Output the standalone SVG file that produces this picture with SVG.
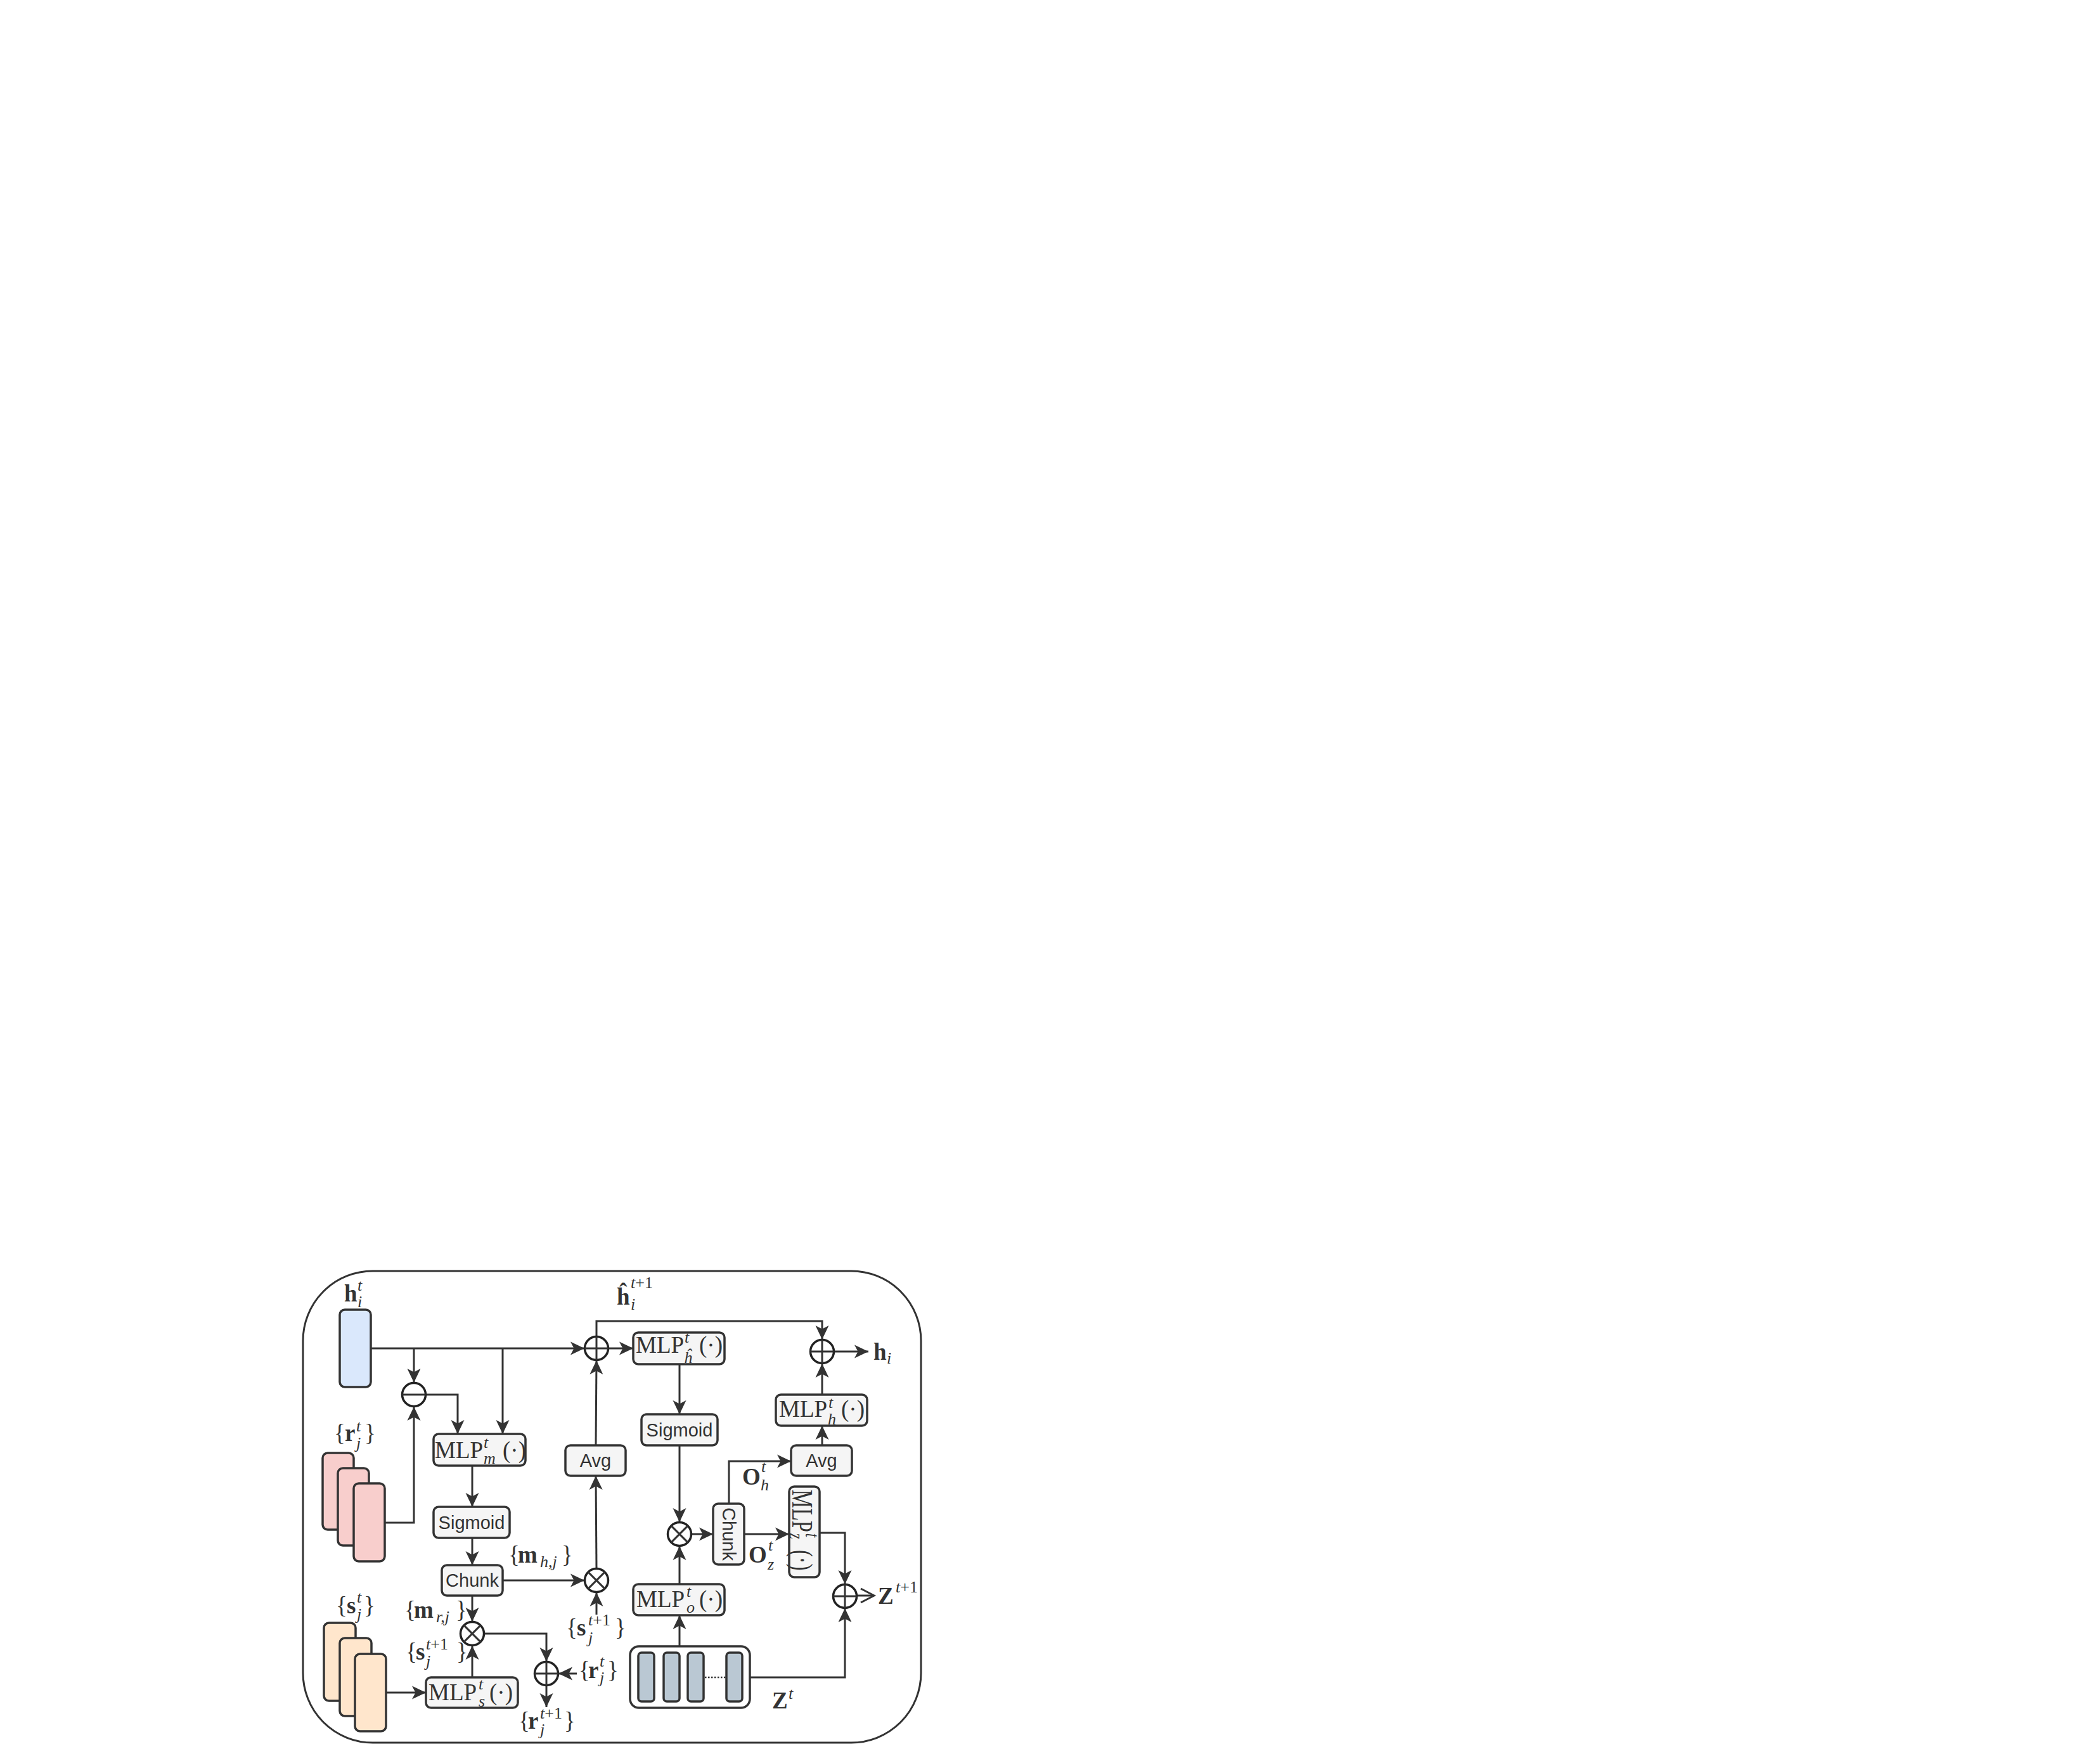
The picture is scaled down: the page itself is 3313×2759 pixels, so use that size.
<svg xmlns="http://www.w3.org/2000/svg" width="3313" height="2759" viewBox="0 0 3313 2759">
<defs>
<style>
.ln{fill:none;stroke:#333;stroke-width:3}
.bx{fill:#f5f5f5;stroke:#333;stroke-width:3.5}
.op{fill:#fff;stroke:#222;stroke-width:3.5}
.t{font-family:"Liberation Sans",Arial,sans-serif;font-size:29px;fill:#333;text-anchor:middle}
.m{font-family:"Liberation Serif","Times New Roman",serif;font-size:37px;fill:#333}
.b{font-weight:bold}
.s{font-size:26px;font-style:italic}
.u{font-size:26px;font-style:normal}
</style>
<marker id="a" markerUnits="userSpaceOnUse" markerWidth="24" markerHeight="24" viewBox="0 -12 24 24" refX="22" refY="0" orient="auto"><path d="M0,-10.5 L22,0 L0,10.5 L5.5,0 Z" fill="#333"/></marker>
</defs>
<rect x="0" y="0" width="3313" height="2759" fill="#fff"/>
<rect id="frame" x="478" y="2005" width="975" height="744" rx="110" fill="none" stroke="#333" stroke-width="3"/>

<g id="connectors">
<path class="ln" d="M585,2127 H922" marker-end="url(#a)"/>
<path class="ln" d="M653,2127 V2181" marker-end="url(#a)"/>
<path class="ln" d="M793,2127 V2262" marker-end="url(#a)"/>
<path class="ln" d="M672,2200 H722 V2262" marker-end="url(#a)"/>
<path class="ln" d="M607,2402 H653 V2219" marker-end="url(#a)"/>
<path class="ln" d="M745,2312 V2377" marker-end="url(#a)"/>
<path class="ln" d="M745,2426 V2469" marker-end="url(#a)"/>
<path class="ln" d="M793,2493 H922" marker-end="url(#a)"/>
<path class="ln" d="M941,2547 V2512" marker-end="url(#a)"/>
<path class="ln" d="M941,2474 L940,2328" marker-end="url(#a)"/>
<path class="ln" d="M940,2280 L941,2146" marker-end="url(#a)"/>
<path class="ln" d="M960,2127 H999" marker-end="url(#a)"/>
<path class="ln" d="M941,2108 V2084 H1297 V2113" marker-end="url(#a)"/>
<path class="ln" d="M1072,2152 V2231" marker-end="url(#a)"/>
<path class="ln" d="M1072,2280 V2401" marker-end="url(#a)"/>
<path class="ln" d="M1072,2499 V2439" marker-end="url(#a)"/>
<path class="ln" d="M1072,2597 V2548" marker-end="url(#a)"/>
<path class="ln" d="M1091,2420 H1125" marker-end="url(#a)"/>
<path class="ln" d="M1150,2372 V2305 H1248" marker-end="url(#a)"/>
<path class="ln" d="M1174,2420 H1245" marker-end="url(#a)"/>
<path class="ln" d="M1297,2280 V2249" marker-end="url(#a)"/>
<path class="ln" d="M1297,2200 V2151" marker-end="url(#a)"/>
<path class="ln" d="M1316,2132 H1370" marker-end="url(#a)"/>
<path class="ln" d="M1293,2418 H1333 V2499" marker-end="url(#a)"/>
<path class="ln" d="M1183,2646 H1333 V2537" marker-end="url(#a)"/>
<path class="ln" d="M1352,2517 H1378"/>
<path class="ln" d="M1358,2506 L1379,2517 L1358,2528"/>
<path class="ln" d="M609,2670 H672" marker-end="url(#a)"/>
<path class="ln" d="M745,2646 V2596" marker-end="url(#a)"/>
<path class="ln" d="M745,2517 V2558" marker-end="url(#a)"/>
<path class="ln" d="M764,2577 H862 V2621" marker-end="url(#a)"/>
<path class="ln" d="M910,2640 H881" marker-end="url(#a)"/>
<path class="ln" d="M862,2659 V2693" marker-end="url(#a)"/>
</g>

<g id="h_i_t">
<rect x="536" y="2066" width="49" height="122" rx="8" fill="#dae8fc" stroke="#333" stroke-width="3.5"/>
<text class="m"><tspan class="b" x="543" y="2053">h</tspan><tspan class="s" x="564" y="2036">t</tspan><tspan class="s" x="564" y="2062">i</tspan></text>
</g>

<g id="r_stack">
<rect x="509" y="2292" width="49" height="121" rx="8" fill="#f8cecc" stroke="#333" stroke-width="3.5"/>
<rect x="533" y="2316" width="49" height="122" rx="8" fill="#f8cecc" stroke="#333" stroke-width="3.5"/>
<rect x="558" y="2340" width="49" height="123" rx="8" fill="#f8cecc" stroke="#333" stroke-width="3.5"/>
<text class="m"><tspan x="527" y="2273">{</tspan><tspan class="b" x="544" y="2273">r</tspan><tspan class="s" x="562" y="2258">t</tspan><tspan class="s" x="562" y="2285">j</tspan><tspan x="575" y="2273">}</tspan></text>
</g>

<g id="s_stack">
<rect x="511" y="2560" width="50" height="123" rx="8" fill="#ffe6cc" stroke="#333" stroke-width="3.5"/>
<rect x="536" y="2584" width="50" height="123" rx="8" fill="#ffe6cc" stroke="#333" stroke-width="3.5"/>
<rect x="560" y="2609" width="49" height="122" rx="8" fill="#ffe6cc" stroke="#333" stroke-width="3.5"/>
<text class="m"><tspan x="530" y="2545">{</tspan><tspan class="b" x="547" y="2545">s</tspan><tspan class="s" x="563" y="2528">t</tspan><tspan class="s" x="563" y="2555">j</tspan><tspan x="574" y="2545">}</tspan></text>
</g>

<g id="minus">
<circle class="op" cx="653" cy="2200" r="18.5"/>
<path class="ln" stroke-width="3.5" d="M634.5,2200 H671.5"/>
</g>

<g id="plus1">
<circle class="op" cx="941" cy="2127" r="18.5"/>
<path class="ln" stroke-width="3.5" d="M922.5,2127 H959.5 M941,2108.5 V2145.5"/>
</g>

<g id="plus2">
<circle class="op" cx="1297" cy="2132" r="18.5"/>
<path class="ln" stroke-width="3.5" d="M1278.5,2132 H1315.5 M1297,2113.5 V2150.5"/>
</g>

<g id="plus3">
<circle class="op" cx="1333" cy="2518" r="18.5"/>
<path class="ln" stroke-width="3.5" d="M1314.5,2518 H1351.5 M1333,2499.5 V2536.5"/>
</g>

<g id="plus_low">
<circle class="op" cx="862" cy="2640" r="18.5"/>
<path class="ln" stroke-width="3.5" d="M843.5,2640 H880.5 M862,2621.5 V2658.5"/>
</g>

<g id="otimes1">
<circle class="op" cx="941" cy="2493" r="18.5"/>
<path class="ln" stroke-width="3.5" d="M927.9,2479.9 L954.1,2506.1 M954.1,2479.9 L927.9,2506.1"/>
</g>

<g id="otimes2">
<circle class="op" cx="1072" cy="2420" r="18.5"/>
<path class="ln" stroke-width="3.5" d="M1058.9,2406.9 L1085.1,2433.1 M1085.1,2406.9 L1058.9,2433.1"/>
</g>

<g id="otimes_low">
<circle class="op" cx="745" cy="2577" r="18.5"/>
<path class="ln" stroke-width="3.5" d="M731.9,2563.9 L758.1,2590.1 M758.1,2563.9 L731.9,2590.1"/>
</g>

<g id="mlp_m">
<rect class="bx" x="684" y="2262" width="145" height="50" rx="8"/>
<text class="m"><tspan x="686" y="2300">MLP</tspan><tspan class="s" x="763" y="2284">t</tspan><tspan class="s" x="763" y="2309">m</tspan><tspan x="793" y="2300">(·)</tspan></text>
</g>

<g id="sigmoid1">
<rect class="bx" x="684" y="2377" width="120" height="49" rx="8"/>
<text class="t" x="744" y="2412">Sigmoid</text>
</g>

<g id="chunk1">
<rect class="bx" x="697" y="2469" width="96" height="48" rx="8"/>
<text class="t" x="745" y="2503">Chunk</text>
</g>

<g id="avg1">
<rect class="bx" x="892" y="2280" width="95" height="48" rx="8"/>
<text class="t" x="939.5" y="2314">Avg</text>
</g>

<g id="mlp_s">
<rect class="bx" x="672" y="2646" width="145" height="48" rx="8"/>
<text class="m"><tspan x="676" y="2682">MLP</tspan><tspan class="s" x="755" y="2665">t</tspan><tspan class="s" x="755" y="2692">s</tspan><tspan x="772" y="2682">(·)</tspan></text>
</g>

<g id="mlp_hhat">
<rect class="bx" x="999" y="2102" width="144" height="50" rx="8"/>
<text class="m"><tspan x="1003" y="2134">MLP</tspan><tspan class="s" x="1080" y="2118">t</tspan><tspan class="s" x="1079" y="2150">ĥ</tspan><tspan x="1103" y="2134">(·)</tspan></text>
</g>

<g id="sigmoid2">
<rect class="bx" x="1012" y="2231" width="120" height="49" rx="8"/>
<text class="t" x="1072" y="2266">Sigmoid</text>
</g>

<g id="chunk2">
<rect class="bx" x="1125" y="2372" width="49" height="96" rx="8"/>
<text class="t" transform="translate(1149.5,2420) rotate(90)" x="0" y="10">Chunk</text>
</g>

<g id="avg2">
<rect class="bx" x="1248" y="2280" width="96" height="48" rx="8"/>
<text class="t" x="1296" y="2314">Avg</text>
</g>

<g id="mlp_h">
<rect class="bx" x="1224" y="2200" width="144" height="49" rx="8"/>
<text class="m"><tspan x="1229" y="2235">MLP</tspan><tspan class="s" x="1307" y="2221">t</tspan><tspan class="s" x="1306" y="2247">h</tspan><tspan x="1327" y="2235">(·)</tspan></text>
</g>

<g id="mlp_z">
<rect class="bx" x="1245" y="2345" width="48" height="143" rx="8"/>
<text class="m" transform="translate(1269,2350) rotate(90) scale(0.88,1.25)"><tspan x="0" y="15">MLP</tspan><tspan class="s" x="78" y="-2">t</tspan><tspan class="s" x="78" y="18">z</tspan><tspan x="108" y="15">(·)</tspan></text>
</g>

<g id="mlp_o">
<rect class="bx" x="999" y="2499" width="144" height="49" rx="8"/>
<text class="m"><tspan x="1004" y="2535">MLP</tspan><tspan class="s" x="1083" y="2519">t</tspan><tspan class="s" x="1083" y="2544">o</tspan><tspan x="1103" y="2535">(·)</tspan></text>
</g>

<g id="z_t">
<rect x="994" y="2597" width="189" height="97" rx="14" fill="#fff" stroke="#333" stroke-width="3.5"/>
<rect x="1007" y="2607" width="25" height="77" rx="5" fill="#bac8d3" stroke="#333" stroke-width="3.5"/>
<rect x="1047" y="2607" width="25" height="77" rx="5" fill="#bac8d3" stroke="#333" stroke-width="3.5"/>
<rect x="1085" y="2607" width="25" height="77" rx="5" fill="#bac8d3" stroke="#333" stroke-width="3.5"/>
<rect x="1146" y="2607" width="25" height="77" rx="5" fill="#bac8d3" stroke="#333" stroke-width="3.5"/>
<path d="M1112,2646 H1145" stroke="#333" stroke-width="2.5" stroke-dasharray="2.5 2.5" fill="none"/>
<text class="m"><tspan class="b" x="1218" y="2695">Z</tspan><tspan class="s" x="1244" y="2680">t</tspan></text>
</g>

<g id="labels">
<text class="m"><tspan class="b" x="973" y="2058">ĥ</tspan><tspan class="s" x="995" y="2032">t</tspan><tspan class="u">+1</tspan><tspan class="s" x="995" y="2066">i</tspan></text>
<text class="m"><tspan class="b" x="1378" y="2145">h</tspan><tspan class="s" x="1399" y="2151">i</tspan></text>
<text class="m"><tspan x="802" y="2465">{</tspan><tspan class="b" x="817" y="2465">m</tspan><tspan class="s" x="852" y="2472">h,j</tspan><tspan x="886" y="2465">}</tspan></text>
<text class="m"><tspan x="638" y="2552">{</tspan><tspan class="b" x="653" y="2552">m</tspan><tspan class="s" x="688" y="2559">r,j</tspan><tspan x="719" y="2552">}</tspan></text>
<text class="m"><tspan x="640" y="2618">{</tspan><tspan class="b" x="656" y="2618">s</tspan><tspan class="s" x="672" y="2602">t</tspan><tspan class="u">+1</tspan><tspan class="s" x="672" y="2629">j</tspan><tspan x="720" y="2618">}</tspan></text>
<text class="m"><tspan x="893" y="2580">{</tspan><tspan class="b" x="910" y="2580">s</tspan><tspan class="s" x="928" y="2564">t</tspan><tspan class="u">+1</tspan><tspan class="s" x="928" y="2592">j</tspan><tspan x="970" y="2580">}</tspan></text>
<text class="m"><tspan x="913" y="2647">{</tspan><tspan class="b" x="928" y="2647">r</tspan><tspan class="s" x="946" y="2629">t</tspan><tspan class="s" x="946" y="2655">j</tspan><tspan x="958" y="2647">}</tspan></text>
<text class="m"><tspan x="818" y="2727">{</tspan><tspan class="b" x="833" y="2727">r</tspan><tspan class="s" x="852" y="2711">t</tspan><tspan class="u">+1</tspan><tspan class="s" x="852" y="2737">j</tspan><tspan x="890" y="2727">}</tspan></text>
<text class="m"><tspan class="b" x="1171" y="2342">O</tspan><tspan class="s" x="1201" y="2322">t</tspan><tspan class="s" x="1200" y="2351">h</tspan></text>
<text class="m"><tspan class="b" x="1181" y="2465">O</tspan><tspan class="s" x="1212" y="2446">t</tspan><tspan class="s" x="1211" y="2476">z</tspan></text>
<text class="m"><tspan class="b" x="1385" y="2530">Z</tspan><tspan class="s" x="1413" y="2512">t</tspan><tspan class="u">+1</tspan></text>
</g>
</svg>
